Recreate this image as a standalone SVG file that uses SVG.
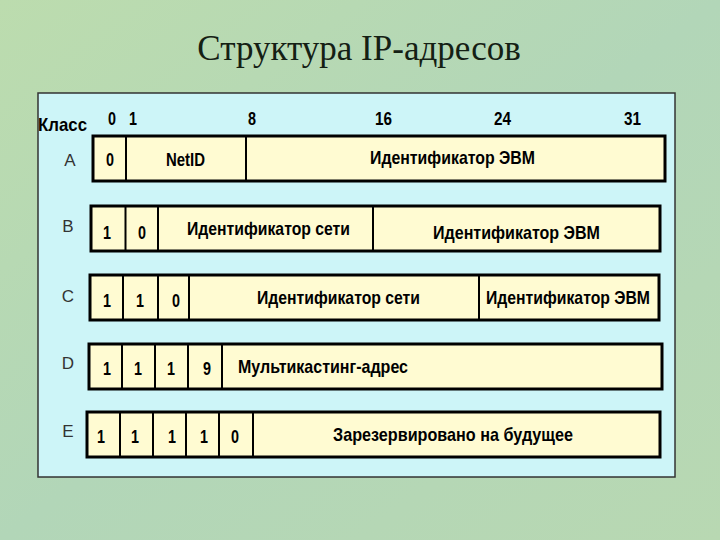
<svg xmlns="http://www.w3.org/2000/svg" width="720" height="540" viewBox="0 0 720 540">
<defs>
<linearGradient id="bg" x1="0" y1="0" x2="1" y2="1">
<stop offset="0" stop-color="#bcdcae"/>
<stop offset="0.5" stop-color="#b2d6b8"/>
<stop offset="1" stop-color="#b8d8b2"/>
</linearGradient>
<style>
.title{font-family:"Liberation Serif","Times New Roman",serif;font-size:35px;fill:#142014}
.box{fill:#fffbd2;stroke:#000;stroke-width:3}
.div{stroke:#000;stroke-width:2}
.b{font-family:"Liberation Sans",Arial,sans-serif;font-weight:bold;font-size:19px;fill:#000}
.cls{font-family:"Liberation Sans",Arial,sans-serif;font-size:17px;fill:#333}
</style>
</defs>
<rect width="720" height="540" fill="url(#bg)"/>
<text class="title" x="359" y="60" text-anchor="middle">Структура IP-адресов</text>
<rect x="38" y="93" width="637" height="384" fill="#cdf5f8" stroke="#333" stroke-width="1.5"/>
<g id="header">
<text class="b" x="38" y="131" textLength="49" lengthAdjust="spacingAndGlyphs">Класс</text>
<text class="b" x="108" y="125" textLength="8" lengthAdjust="spacingAndGlyphs">0</text>
<text class="b" x="129" y="125" textLength="8" lengthAdjust="spacingAndGlyphs">1</text>
<text class="b" x="248" y="125" textLength="8" lengthAdjust="spacingAndGlyphs">8</text>
<text class="b" x="375" y="125" textLength="17" lengthAdjust="spacingAndGlyphs">16</text>
<text class="b" x="494" y="125" textLength="17" lengthAdjust="spacingAndGlyphs">24</text>
<text class="b" x="624" y="125" textLength="17" lengthAdjust="spacingAndGlyphs">31</text>
</g>
<g id="classA">
<text class="cls" x="70" y="166" text-anchor="middle">A</text>
<rect class="box" x="93" y="136" width="572" height="45"/>
<line class="div" x1="126" y1="136" x2="126" y2="181"/>
<line class="div" x1="246" y1="136" x2="246" y2="181"/>
<text class="b" x="106" y="166" textLength="8" lengthAdjust="spacingAndGlyphs">0</text>
<text class="b" x="166" y="166" textLength="39" lengthAdjust="spacingAndGlyphs">NetID</text>
<text class="b" x="370" y="164" textLength="165" lengthAdjust="spacingAndGlyphs">Идентификатор ЭВМ</text>
</g>
<g id="classB">
<text class="cls" x="68" y="232" text-anchor="middle">B</text>
<rect class="box" x="91" y="206" width="569" height="45"/>
<line class="div" x1="125.5" y1="206" x2="125.5" y2="251"/>
<line class="div" x1="158" y1="206" x2="158" y2="251"/>
<line class="div" x1="373" y1="206" x2="373" y2="251"/>
<text class="b" x="103" y="239" textLength="8" lengthAdjust="spacingAndGlyphs">1</text>
<text class="b" x="138" y="239" textLength="8" lengthAdjust="spacingAndGlyphs">0</text>
<text class="b" x="187" y="235" textLength="163" lengthAdjust="spacingAndGlyphs">Идентификатор сети</text>
<text class="b" x="433" y="239" textLength="167" lengthAdjust="spacingAndGlyphs">Идентификатор ЭВМ</text>
</g>
<g id="classC">
<text class="cls" x="68" y="302" text-anchor="middle">C</text>
<rect class="box" x="90" y="275" width="569" height="45"/>
<line class="div" x1="123" y1="275" x2="123" y2="320"/>
<line class="div" x1="158" y1="275" x2="158" y2="320"/>
<line class="div" x1="189" y1="275" x2="189" y2="320"/>
<line class="div" x1="479" y1="275" x2="479" y2="320"/>
<text class="b" x="103" y="307" textLength="8" lengthAdjust="spacingAndGlyphs">1</text>
<text class="b" x="136" y="307" textLength="8" lengthAdjust="spacingAndGlyphs">1</text>
<text class="b" x="172" y="307" textLength="8" lengthAdjust="spacingAndGlyphs">0</text>
<text class="b" x="257" y="304" textLength="163" lengthAdjust="spacingAndGlyphs">Идентификатор сети</text>
<text class="b" x="486" y="304" textLength="164" lengthAdjust="spacingAndGlyphs">Идентификатор ЭВМ</text>
</g>
<g id="classD">
<text class="cls" x="68" y="369" text-anchor="middle">D</text>
<rect class="box" x="89" y="344" width="573" height="45"/>
<line class="div" x1="122" y1="344" x2="122" y2="389"/>
<line class="div" x1="155" y1="344" x2="155" y2="389"/>
<line class="div" x1="188" y1="344" x2="188" y2="389"/>
<line class="div" x1="222" y1="344" x2="222" y2="389"/>
<text class="b" x="103" y="375" textLength="8" lengthAdjust="spacingAndGlyphs">1</text>
<text class="b" x="134" y="375" textLength="8" lengthAdjust="spacingAndGlyphs">1</text>
<text class="b" x="167" y="375" textLength="8" lengthAdjust="spacingAndGlyphs">1</text>
<text class="b" x="203" y="375" textLength="8" lengthAdjust="spacingAndGlyphs">9</text>
<text class="b" x="238" y="373" textLength="170" lengthAdjust="spacingAndGlyphs">Мультикастинг-адрес</text>
</g>
<g id="classE">
<text class="cls" x="68" y="437" text-anchor="middle">E</text>
<rect class="box" x="87" y="412" width="573" height="45"/>
<line class="div" x1="120" y1="412" x2="120" y2="457"/>
<line class="div" x1="153" y1="412" x2="153" y2="457"/>
<line class="div" x1="186" y1="412" x2="186" y2="457"/>
<line class="div" x1="219" y1="412" x2="219" y2="457"/>
<line class="div" x1="253" y1="412" x2="253" y2="457"/>
<text class="b" x="97" y="443" textLength="8" lengthAdjust="spacingAndGlyphs">1</text>
<text class="b" x="131" y="443" textLength="8" lengthAdjust="spacingAndGlyphs">1</text>
<text class="b" x="168" y="443" textLength="8" lengthAdjust="spacingAndGlyphs">1</text>
<text class="b" x="200" y="443" textLength="8" lengthAdjust="spacingAndGlyphs">1</text>
<text class="b" x="231" y="443" textLength="8" lengthAdjust="spacingAndGlyphs">0</text>
<text class="b" x="333" y="441" textLength="240" lengthAdjust="spacingAndGlyphs">Зарезервировано на будущее</text>
</g>
</svg>
